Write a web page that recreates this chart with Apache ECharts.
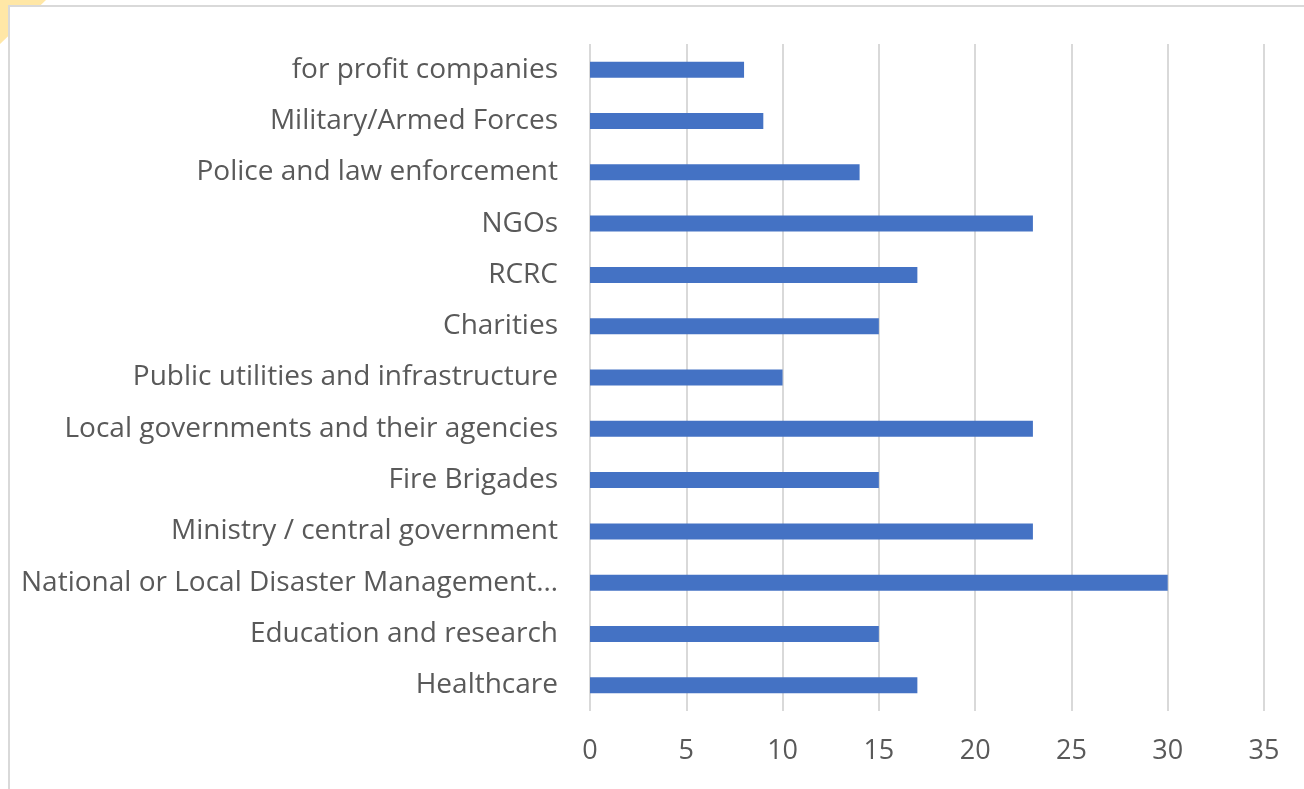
<!DOCTYPE html>
<html>
<head>
<meta charset="utf-8">
<script src="https://cdn.jsdelivr.net/npm/echarts@6/dist/echarts.min.js"></script>
<style>
html,body{margin:0;padding:0;background:#fff;}
#chart{width:1304px;height:789px;}
</style>
</head>
<body>
<div id="chart"></div>
<script>
const categories = [
  "Healthcare",
  "Education and research",
  "National or Local Disaster Management…",
  "Ministry / central government",
  "Fire Brigades",
  "Local governments and their agencies",
  "Public utilities and infrastructure",
  "Charities",
  "RCRC",
  "NGOs",
  "Police and law enforcement",
  "Military/Armed Forces",
  "for profit companies"
];
const values = [17, 15, 30, 23, 15, 23, 10, 15, 17, 23, 14, 9, 8];
const xTicks = [0, 5, 10, 15, 20, 25, 30, 35];

const chart = echarts.init(document.getElementById('chart'), null, {renderer: 'canvas'});
const font = '"Open Sans", "DejaVu Sans", sans-serif';
chart.setOption({
  animation: false,
  backgroundColor: '#ffffff',
  graphic: [
    {type: 'polygon', shape: {points: [[0,0],[46,0],[0,44]]}, style: {fill: '#FFE7A6'}, z: -10, silent: true},
    {type: 'rect', shape: {x: 9, y: 6, width: 1400, height: 900}, style: {fill: '#ffffff', stroke: '#d9d9d9', lineWidth: 2}, z: -5, silent: true}
  ],
  grid: {left: 590, right: 40, top: 44, bottom: 78, containLabel: false},
  xAxis: {
    type: 'value',
    min: xTicks[0],
    max: xTicks[xTicks.length - 1],
    interval: 5,
    axisLine: {show: false},
    axisTick: {show: false},
    splitLine: {show: true, lineStyle: {color: '#d9d9d9', width: 2}},
    axisLabel: {color: '#595959', fontSize: 27, fontFamily: font, margin: 27}
  },
  yAxis: {
    type: 'category',
    data: categories,
    axisLine: {show: false},
    axisTick: {show: false},
    axisLabel: {color: '#595959', fontSize: 28, fontFamily: font, margin: 32}
  },
  series: [{
    type: 'bar',
    data: values,
    barWidth: 16,
    itemStyle: {color: '#4472C4'},
    z: 3
  }]
});
</script>
</body>
</html>
